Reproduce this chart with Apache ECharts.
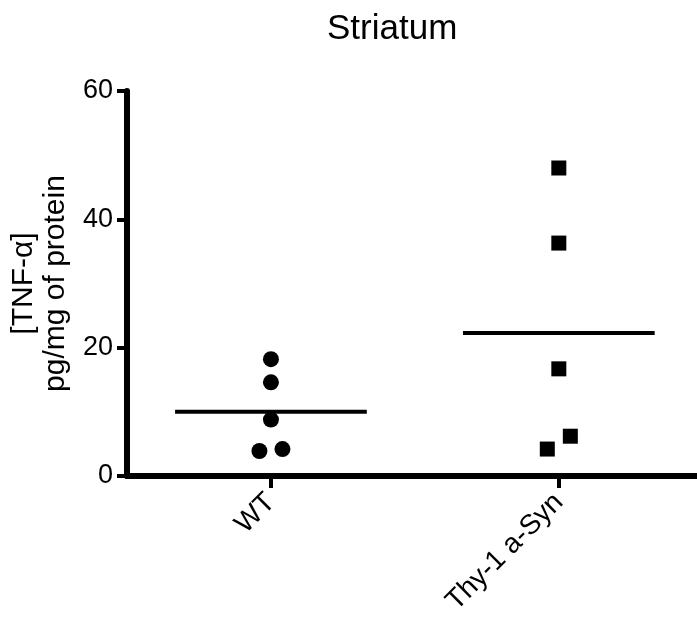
<!DOCTYPE html>
<html>
<head>
<meta charset="utf-8">
<script src="https://cdn.jsdelivr.net/npm/echarts@6/dist/echarts.min.js"></script>
<style>
  html, body { margin: 0; padding: 0; background: #fff; }
  #chart { width: 697px; height: 624px; }
</style>
</head>
<body>
<div id="chart"></div>
<script>
// groups sit at x = 1 and x = 2 on a value axis
var categories = ['WT', 'Thy-1 a-Syn'];
var groupPos = [1, 2];

// individual animals (x = group position plus small scatter offset)
var wtX = [1, 1, 1, 0.96, 1.04];
var wtY = [18.2, 14.6, 8.8, 3.9, 4.2];
var synX = [2, 2, 2, 1.96, 2.04];
var synY = [48.0, 36.3, 16.7, 4.2, 6.2];

// group means, drawn as horizontal bars
var means = [10.0, 22.3];
var meanHalfWidth = 0.333;

var yTicks = [0, 20, 40, 60];

var font = 'Liberation Sans, Arial, sans-serif';

function pairs(xs, ys) {
    return xs.map(function (x, i) { return [x, ys[i]]; });
}

function meanLine(i) {
    return {
        type: 'line',
        data: [
            [groupPos[i] - meanHalfWidth, means[i]],
            [groupPos[i] + meanHalfWidth, means[i]]
        ],
        symbol: 'none',
        lineStyle: { color: '#000', width: 4 },
        silent: true,
        z: 3
    };
}

var chart = echarts.init(document.getElementById('chart'));

var option = {
    animation: false,
    backgroundColor: '#fff',
    title: {
        text: 'Striatum',
        left: 322,
        top: 7,
        textStyle: { fontFamily: font, fontSize: 35, fontWeight: 'normal', color: '#000' }
    },
    grid: { left: 127, right: 0, top: 91, bottom: 148, containLabel: false },
    xAxis: {
        type: 'value',
        min: 0.5,
        max: 2.48,
        splitLine: { show: false },
        axisLine: { lineStyle: { color: '#000', width: 6 } },
        axisTick: {
            show: true,
            customValues: groupPos,
            length: 12,
            lineStyle: { color: '#000', width: 4 }
        },
        axisLabel: {
            customValues: groupPos,
            rotate: 45,
            margin: 22,
            fontFamily: font,
            fontSize: 28,
            color: '#000',
            formatter: function (v) {
                var i = groupPos.indexOf(Math.round(v));
                return i >= 0 ? categories[i] : '';
            }
        }
    },
    yAxis: {
        type: 'value',
        min: yTicks[0],
        max: yTicks[yTicks.length - 1],
        interval: 20,
        splitLine: { show: false },
        axisLine: { show: true, lineStyle: { color: '#000', width: 6 } },
        axisTick: { show: true, length: 10, lineStyle: { color: '#000', width: 4 } },
        axisLabel: { margin: 14, fontFamily: font, fontSize: 27, color: '#000' },
        name: '[TNF-α]\npg/mg of protein',
        nameLocation: 'middle',
        nameRotate: 90,
        nameGap: 41,
        nameTextStyle: { fontFamily: font, fontSize: 30, color: '#000', lineHeight: 32, align: 'center' }
    },
    series: [
        {
            type: 'scatter',
            name: categories[0],
            data: pairs(wtX, wtY),
            symbol: 'circle',
            symbolSize: 16,
            itemStyle: { color: '#000', opacity: 1 },
            z: 4
        },
        {
            type: 'scatter',
            name: categories[1],
            data: pairs(synX, synY),
            symbol: 'rect',
            symbolSize: 15,
            itemStyle: { color: '#000', opacity: 1 },
            z: 4
        },
        meanLine(0),
        meanLine(1)
    ]
};

chart.setOption(option);
</script>
</body>
</html>
